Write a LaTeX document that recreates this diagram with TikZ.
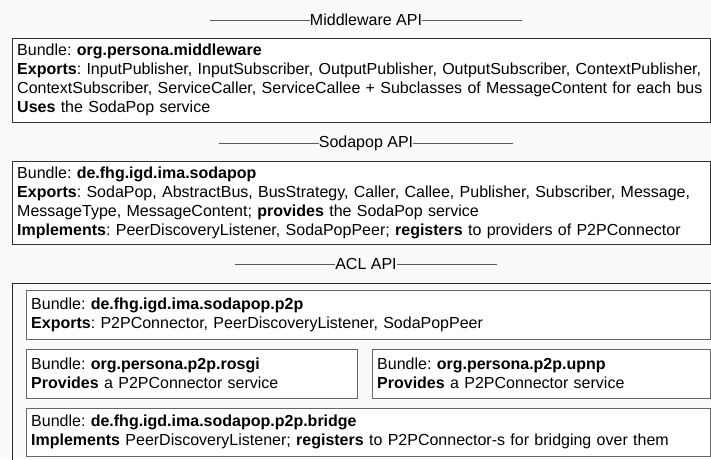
\documentclass[tikz,border=0pt]{standalone}
\usepackage{fontspec}
\setmainfont{Liberation Sans}
\usepackage{tikz}
\usetikzlibrary{positioning}
\frenchspacing

\begin{document}
\begin{tikzpicture}[
        x=1pt, y=-1pt,
        bundle/.style={
            rectangle,
            draw=black!80,
            fill=white,
            anchor=north west,
            align=left,
            inner xsep=5pt,
            inner ysep=0pt,
            font=\fontsize{16}{19}\selectfont
        },
        subbundle/.style={
            bundle,
            draw=black!60,
            minimum height=49pt
        },
        apititle/.style={
            inner sep=0pt,
            font=\fontsize{16}{19}\selectfont
        },
        apiline/.style={
            draw=black!65,
            semithick
        }
    ]

    \fill[black!2] (0,0) rectangle (711,459);
    \clip (0,0) rectangle (711,459);

    % API headings
    \node[apititle] (mwtitle) at (366,20) {Middleware API};
    \node[apititle] (sptitle) at (366,143) {Sodapop API};
    \node[apititle] (acltitle) at (366,264) {ACL API};

    \coordinate[left=100pt of mwtitle.west] (mwleft);
    \coordinate[right=100pt of mwtitle.east] (mwright);
    \coordinate[left=100pt of sptitle.west] (spleft);
    \coordinate[right=100pt of sptitle.east] (spright);
    \coordinate[left=100pt of acltitle.west] (aclleft);
    \coordinate[right=100pt of acltitle.east] (aclright);

    \draw[apiline] (mwleft) -- (mwtitle.west);
    \draw[apiline] (mwtitle.east) -- (mwright);
    \draw[apiline] (spleft) -- (sptitle.west);
    \draw[apiline] (sptitle.east) -- (spright);
    \draw[apiline] (aclleft) -- (acltitle.west);
    \draw[apiline] (acltitle.east) -- (aclright);

    % Bundles
    \node[bundle, text width=688pt, minimum height=84pt] (middleware) at (12,38) {%
        Bundle: \textbf{org.persona.middleware}\\
        \textbf{Exports}: InputPublisher, InputSubscriber, OutputPublisher, OutputSubscriber, ContextPublisher,\\
        ContextSubscriber, ServiceCaller, ServiceCallee + Subclasses of MessageContent for each bus\\
        \textbf{Uses} the SodaPop service};

    \node[bundle, text width=688pt, minimum height=83pt] (sodapop) at (12,161) {%
        Bundle: \textbf{de.fhg.igd.ima.sodapop}\\
        \textbf{Exports}: SodaPop, AbstractBus, BusStrategy, Caller, Callee, Publisher, Subscriber, Message,\\
        MessageType, MessageContent; \textbf{provides} the SodaPop service\\
        \textbf{Implements}: PeerDiscoveryListener, SodaPopPeer; \textbf{registers} to providers of P2PConnector};

    \node[draw=black!85, anchor=north west, minimum width=710pt, minimum height=190pt] (aclframe) at (12,283) {};

    \node[subbundle, text width=674pt] (p2p) at (26,290) {%
        Bundle: \textbf{de.fhg.igd.ima.sodapop.p2p}\\
        \textbf{Exports}: P2PConnector, PeerDiscoveryListener, SodaPopPeer};

    \node[subbundle, text width=321pt] (rosgi) at (26,349) {%
        Bundle: \textbf{org.persona.p2p.rosgi}\\
        \textbf{Provides} a P2PConnector service};

    \node[subbundle, text width=328pt] (upnp) at (372,349) {%
        Bundle: \textbf{org.persona.p2p.upnp}\\
        \textbf{Provides} a P2PConnector service};

    \node[subbundle, text width=674pt, minimum height=48pt] (bridge) at (26,408) {%
        Bundle: \textbf{de.fhg.igd.ima.sodapop.p2p.bridge}\\
        \textbf{Implements} PeerDiscoveryListener; \textbf{registers} to P2PConnector-s for bridging over them};

\end{tikzpicture}
\end{document}
